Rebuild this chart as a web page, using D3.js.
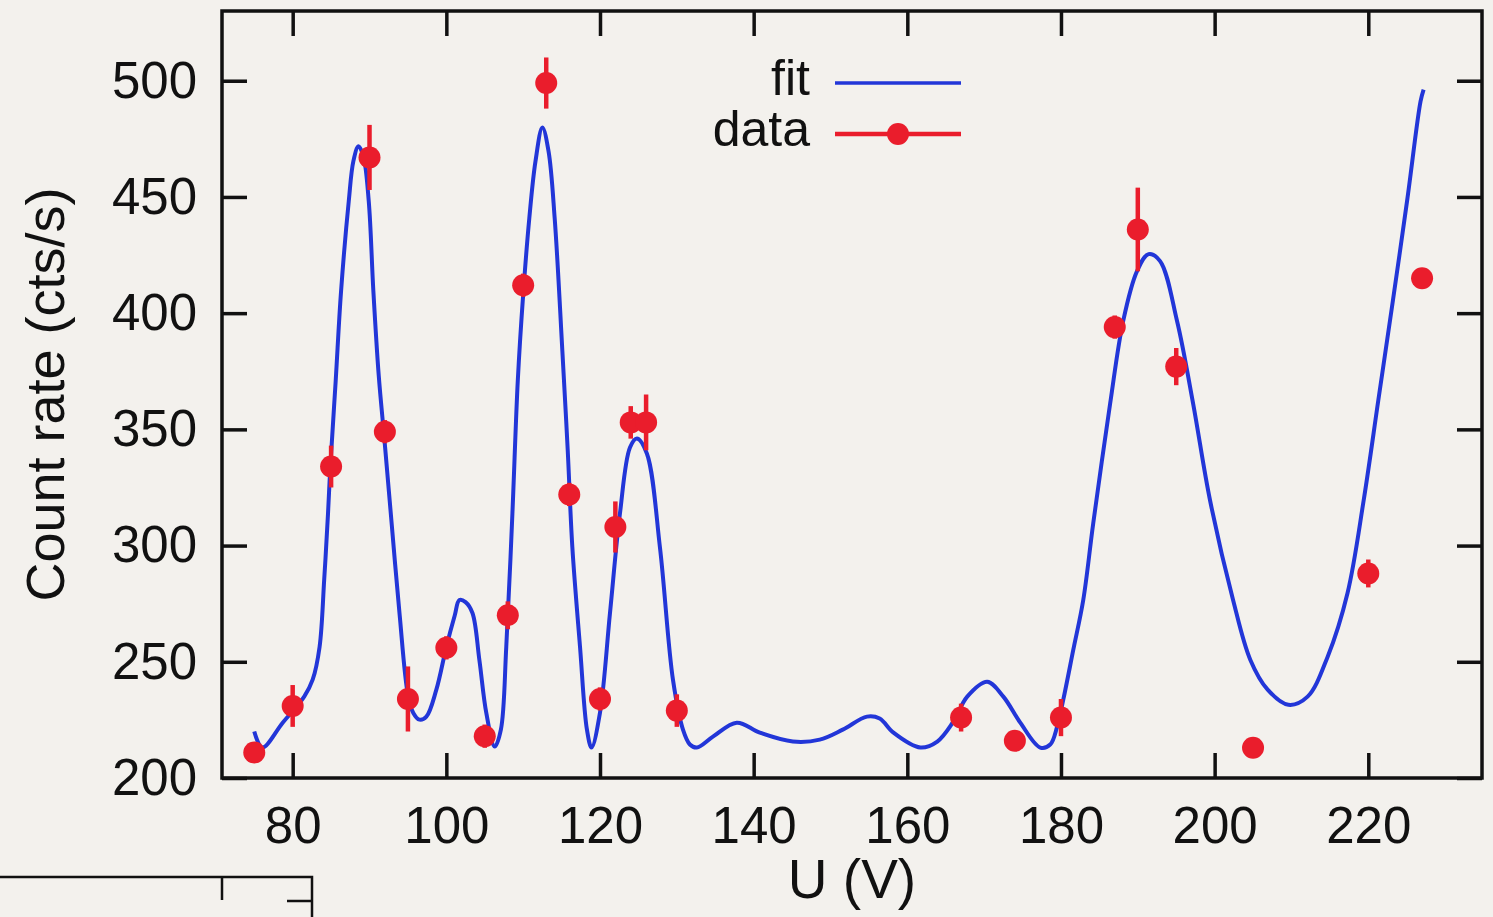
<!DOCTYPE html>
<html>
<head>
<meta charset="utf-8">
<script src="https://cdn.jsdelivr.net/npm/d3@7"></script>
<style>
  html, body { margin: 0; padding: 0; background: #f3f1ed; }
  svg { display: block; }
  text { font-family: "Liberation Sans", Arial, sans-serif; fill: #111; }
</style>
</head>
<body>
<script>
// ---- data ----
const dataU    = [75, 80, 85, 90, 92, 95, 100, 105, 108, 110, 113, 116, 120, 122, 124, 126, 130, 167, 174, 180, 187, 190, 195, 205, 220, 227];
const dataRate = [211, 231, 334, 467, 349, 234, 256, 218, 270, 412, 499, 322, 234, 308, 353, 353, 229, 226, 216, 226, 394, 436, 377, 213, 288, 415];
const dataErr  = [4, 9, 9, 14, 5, 14, 5, 5, 6, 5, 11, 5, 5, 11, 7, 12, 7, 6, 3, 8, 5, 18, 8, 3, 6, 4];

const fitU = [75, 76.05, 78.7, 81.5, 82.6, 83.5, 84.1, 84.6, 84.9, 85.6, 86.3, 87.3, 87.9, 88.56, 89.2, 89.9, 90.5, 91.2, 91.95, 92.9, 93.9, 95.0, 95.7, 96.5, 97.4, 98.7, 100.0, 101.1, 101.7, 102.5, 103.4, 104.3, 105.2, 106.3, 107.1, 107.8, 108.6, 109.3, 110.0, 110.8, 111.6, 112.5, 113.3, 114.1, 115.1, 115.8, 116.4, 117.4, 118.3, 118.9, 120.0, 121.3, 122.6, 123.9, 124.8, 126.1, 127.8, 129.5, 130.8, 131.7, 132.6, 134.7, 137.8, 140.8, 145.1, 148.6, 151.6, 154.75, 156.4, 158.2, 161.7, 163.9, 165.9, 167.8, 170.4, 172.5, 174.7, 177.3, 178.6, 179.5, 180.3, 181.6, 182.9, 184.2, 186.4, 188.1, 189.9, 191.4, 192.9, 195.1, 197.2, 199.4, 202.4, 204.65, 206.9, 209.6, 212.1, 214.7, 217.3, 219.4, 221.3, 223.2, 225.1, 226.8, 227.2];
const fitRate = [220, 213.1, 223.8, 235, 242.3, 256.4, 285.2, 313.9, 334.1, 371, 409.6, 448.2, 465.4, 471.8, 467.5, 448.2, 409.6, 373.2, 345.3, 308.8, 271, 235.8, 228, 225.1, 226.4, 238, 256.4, 270, 276.6, 275.7, 271, 250.8, 228, 213.5, 220.8, 256.4, 313.9, 371, 408, 440.9, 465.3, 479.9, 469.7, 440.9, 383.8, 340.9, 299.3, 256.4, 220.8, 213.1, 228.1, 271, 313.9, 342.2, 346.1, 339.6, 299.3, 242.2, 220.8, 214.4, 213.1, 217.8, 223.8, 219.5, 215.7, 216.5, 220.8, 226.4, 225.6, 219.5, 213.1, 215.7, 223.8, 235, 241.4, 235, 223.8, 213.1, 214.4, 222.1, 233.7, 255.1, 276.6, 309.6, 361.1, 396.7, 418.1, 425.4, 422.4, 396.7, 361.1, 319.5, 276.6, 250.8, 238, 231.5, 235, 252.1, 279.6, 319.5, 362.4, 405.3, 449.5, 491.1, 496.2];

const xTicks = [80, 100, 120, 140, 160, 180, 200, 220];
const yTicks = [200, 250, 300, 350, 400, 450, 500];
const xLabel = "U (V)";
const yLabel = "Count rate (cts/s)";
const legendLabels = ["fit", "data"];

// ---- layout ----
const W = 1493, H = 917;
const pL = 222, pR = 1482, pT = 11, pB = 778;
const blue = "#2236d8", red = "#ea1d2c";

const svg = d3.select("body").append("svg").attr("width", W).attr("height", H);

const x = d3.scaleLinear().domain([70.8, 234.8]).range([pL, pR]);
const y = d3.scaleLinear().domain([200, 530]).range([pB, pT]);

// axes with mirrored ticks (gnuplot style)
const tickLen = 25;
const gAx = svg.append("g");
gAx.append("g").attr("transform", `translate(0,${pB})`)
  .call(d3.axisBottom(x).tickValues(xTicks).tickSize(-tickLen).tickPadding(29).tickFormat(d3.format("d")))
  .call(g => g.select(".domain").remove());
gAx.append("g").attr("transform", `translate(0,${pT})`)
  .call(d3.axisTop(x).tickValues(xTicks).tickSize(-tickLen).tickFormat(""))
  .call(g => g.select(".domain").remove());
gAx.append("g").attr("transform", `translate(${pL},0)`)
  .call(d3.axisLeft(y).tickValues(yTicks).tickSize(-tickLen).tickPadding(25).tickFormat(d3.format("d")))
  .call(g => g.select(".domain").remove());
gAx.append("g").attr("transform", `translate(${pR},0)`)
  .call(d3.axisRight(y).tickValues(yTicks).tickSize(-tickLen).tickFormat(""))
  .call(g => g.select(".domain").remove());

gAx.selectAll(".tick line").attr("stroke", "#111").attr("stroke-width", 3.5);
gAx.selectAll(".tick text").style("font-size", "51px").attr("fill", "#111");

// frame
svg.append("rect").attr("x", pL).attr("y", pT).attr("width", pR - pL).attr("height", pB - pT)
  .attr("fill", "none").attr("stroke", "#111").attr("stroke-width", 3.5);

// axis labels
svg.append("text").attr("x", (pL + pR) / 2).attr("y", 898).attr("text-anchor", "middle")
  .style("font-size", "55px").text(xLabel);
svg.append("text").attr("transform", `translate(64,${(pT + pB) / 2}) rotate(-90)`).attr("text-anchor", "middle")
  .style("font-size", "54px").text(yLabel);

// fit curve
const line = d3.line().x(d => x(d[0])).y(d => y(d[1])).curve(d3.curveCatmullRom.alpha(0.5));
svg.append("path").datum(fitU.map((u, i) => [u, fitRate[i]]))
  .attr("d", line).attr("fill", "none").attr("stroke", blue).attr("stroke-width", 4)
  .attr("stroke-linejoin", "round");

// data with error bars
const pts = dataU.map((u, i) => ({u, r: dataRate[i], e: dataErr[i]}));
const gd = svg.append("g");
gd.selectAll("line.err").data(pts).join("line").attr("class", "err")
  .attr("x1", d => x(d.u)).attr("x2", d => x(d.u))
  .attr("y1", d => y(d.r - d.e)).attr("y2", d => y(d.r + d.e))
  .attr("stroke", red).attr("stroke-width", 4.5);
gd.selectAll("circle").data(pts).join("circle")
  .attr("cx", d => x(d.u)).attr("cy", d => y(d.r)).attr("r", 11).attr("fill", red);

// legend
const lg = svg.append("g");
const legY = [83, 134];
legendLabels.forEach((lab, i) => {
  lg.append("text").attr("x", 810).attr("y", legY[i] + 12).attr("text-anchor", "end")
    .style("font-size", "50px").text(lab);
  lg.append("line").attr("x1", 835).attr("x2", 961).attr("y1", legY[i]).attr("y2", legY[i])
    .attr("stroke", i === 0 ? blue : red).attr("stroke-width", i === 0 ? 3.5 : 4.5);
  if (i === 1) lg.append("circle").attr("cx", 898).attr("cy", legY[i]).attr("r", 11).attr("fill", red);
});

// fragment of a neighbouring frame at the bottom-left edge of the picture
svg.append("path").attr("d", "M0,877 H312 V917 M222,877 V900 M287,901 H312")
  .attr("fill", "none").attr("stroke", "#111").attr("stroke-width", 2.5);
</script>
</body>
</html>
